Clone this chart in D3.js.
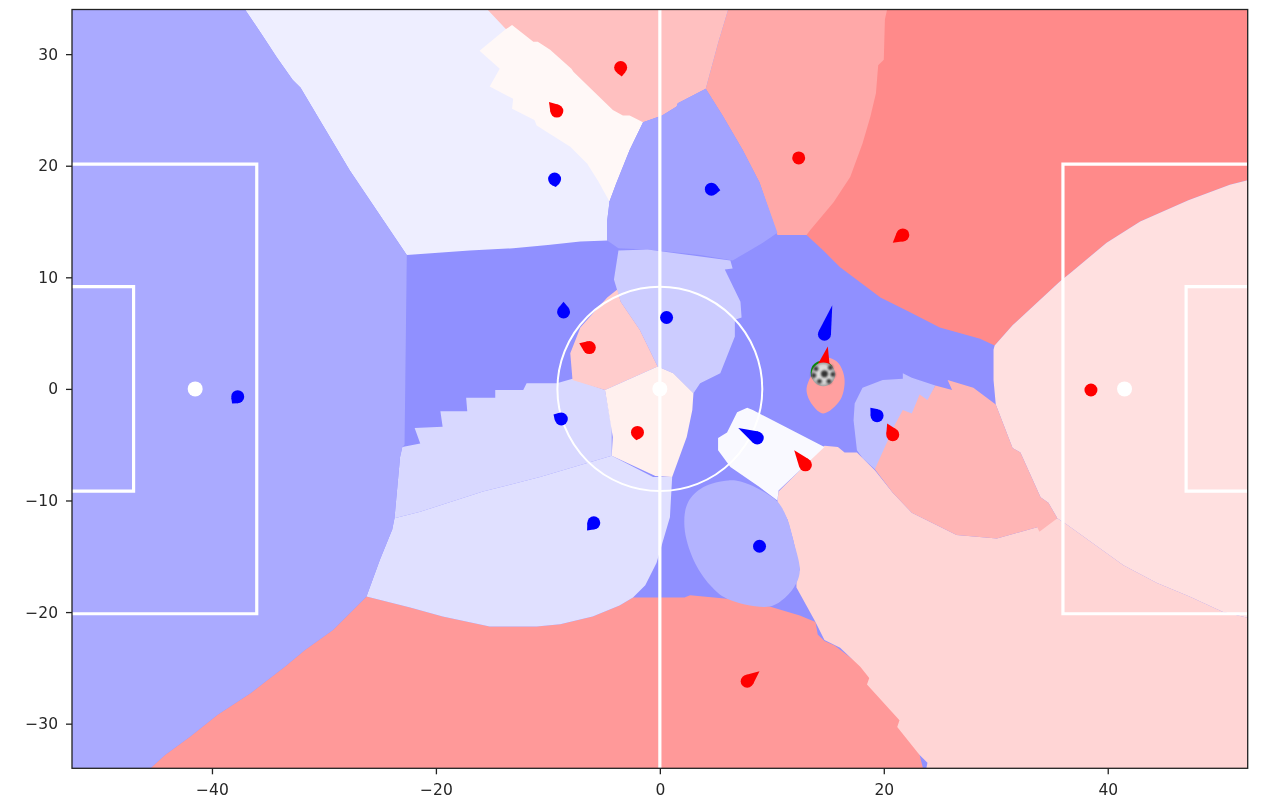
<!DOCTYPE html>
<html>
<head>
<meta charset="utf-8">
<script src="https://cdnjs.cloudflare.com/ajax/libs/d3/7.8.5/d3.min.js"></script>
<style>
  html, body { margin: 0; background: #fff; }
  svg { display: block; filter: blur(0.35px); }
  text { font-family: "DejaVu Sans", sans-serif; fill: #262626; }
</style>
</head>
<body>
<svg id="chart" width="1262" height="801"></svg>
<script>
// control regions, pitch coordinates in metres
// painted in this order, later ones sit on top of earlier ones
const farLeft = [[-52.5,34],[-37.05,34],[-35.5,31.7],[-34.2,29.7],[-32.8,27.7],[-32.1,27],[-27.7,19.6],[-22.6,12],[-22.8,-5],[-23,-5.2],[-23.2,-6.1],[-23.7,-11.6],[-23.9,-12.6],[-25,-15.3],[-26.2,-18.6],[-29.2,-21.6],[-31.7,-23.4],[-33.5,-24.9],[-36.6,-27.3],[-39.5,-29.2],[-42,-31.2],[-44.2,-32.8],[-45.5,-34],[-52.5,-34]];
const topLeft = [[-37.05,34],[-15.2,34],[-13.4,32.2],[-5.3,25],[-4.5,16.7],[-4.7,15.1],[-4.7,13.3],[-7.1,13.2],[-10,12.9],[-13.1,12.6],[-17,12.4],[-22.6,12],[-27.7,19.6],[-32.1,27],[-32.8,27.7],[-34.2,29.7],[-35.5,31.7]];
const topRed = [[-15.4,34],[6.1,34],[5.2,31],[4.1,26.9],[1.6,25.6],[1.5,25.3],[0.2,24.5],[-1.5,23.9],[-5.3,25],[-13.8,32.3]];
const topWhite = [[-13.2,32.6],[-11.3,31.1],[-10.9,31.1],[-9.8,30.4],[-7.9,28.7],[-7.7,28.4],[-4.2,25],[-3.3,24.5],[-2.7,24.5],[-1.5,23.9],[-2.7,21.4],[-3.9,18.4],[-4.5,16.8],[-5.5,18.6],[-6.5,20.2],[-8,21.7],[-11,23.6],[-11.2,24.1],[-13.2,25.1],[-13.1,26],[-15.2,27.1],[-14.3,28.7],[-16.1,30.3],[-13.8,32.2]];
const cornerRed = [[15,34],[52.5,34],[52.5,18.7],[50.9,18.3],[47.2,16.9],[42.9,15],[39.9,13.1],[36.8,10.5],[35.7,9.6],[31.5,5.7],[29.9,3.9],[28.6,4.5],[25,5.5],[22.3,6.9],[19.7,8.2],[16.1,10.9],[14.6,12.4],[13.1,13.8],[12,20]];
const upperRed = [[6.1,34],[20.3,34],[20.1,33.1],[20,29.5],[19.5,29],[19.3,26.5],[18.8,24.4],[18.1,22],[17,19],[15.5,16.7],[13.4,14.2],[13.1,13.8],[10.5,13.8],[8.9,18.5],[7.4,21.4],[5.6,24.5],[4.1,26.9],[5.2,31]];
const upperBlue = [[-1.5,23.9],[0.2,24.5],[1.5,25.3],[1.6,25.6],[4.1,26.9],[5.6,24.5],[7.4,21.4],[8.9,18.5],[10.5,14],[9.2,13.1],[6.5,11.5],[3.6,12],[-1.1,12.5],[-3.7,12.6],[-4.7,13.3],[-4.7,15.1],[-4.5,16.8],[-3.9,18.4],[-2.7,21.4]];
const keeperPink = [[29.9,3.9],[31.5,5.7],[35.7,9.6],[36.8,10.5],[39.9,13.1],[42.9,15],[47.2,16.9],[50.9,18.3],[52.5,18.7],[52.5,-20.5],[50.3,-20],[47.3,-18.6],[44.4,-17.4],[41.4,-15.8],[36.4,-12.2],[35.5,-11.6],[34.7,-10.2],[34,-9.7],[32.2,-5.7],[31.5,-5.3],[30,-1.4],[29.8,0.8],[29.8,3.5]];
const bottomRed = [[-45.5,-34],[-44.2,-32.8],[-42,-31.2],[-39.5,-29.2],[-36.6,-27.3],[-33.5,-24.9],[-31.7,-23.4],[-29.2,-21.6],[-26.2,-18.6],[-22.3,-19.6],[-19.4,-20.4],[-15.2,-21.3],[-11,-21.3],[-8.9,-21.1],[-6,-20.4],[-3.6,-19.4],[-2.4,-18.7],[0,-18.7],[2.2,-18.7],[2.7,-18.5],[6,-18.8],[9.8,-19.5],[12.5,-20.3],[13.9,-20.9],[14.1,-22],[14.7,-22.6],[15.6,-23],[19.7,-26.1],[23.2,-32.8],[23.5,-34]];
const lowerRightBlue = [[21.7,1.4],[22.5,1],[24.6,0.3],[23.2,-2.8],[19.2,-7.2],[18.1,-6.2],[17.6,-5.5],[17.3,-2.8],[17.4,-1.3],[18.1,0.1],[19.9,0.8],[21.7,0.9]];
const lowerPink = [[14.7,-5.1],[15.9,-5.2],[16.5,-5.7],[17.6,-5.7],[19.2,-7.3],[20.8,-9.3],[22.5,-11.1],[26.5,-13.1],[30.1,-13.4],[33.7,-12.4],[35.5,-11.6],[36.4,-12.2],[41.4,-15.8],[44.4,-17.4],[47.3,-18.6],[50.3,-20],[52.5,-20.5],[52.5,-34],[23.8,-34],[23.9,-33.5],[23.2,-32.8],[21.2,-30.3],[21.4,-29.7],[18.5,-26.5],[18.7,-25.9],[17.9,-24.9],[16.1,-23.2],[14.7,-22.5],[13.9,-20.9],[12.2,-17.8],[12.2,-16.9],[12.5,-16.2],[11.9,-13.5],[11.4,-11.7],[10.5,-10.1],[10.6,-9.2]];
const boxRed = [[25.7,0.8],[28,0.1],[30,-1.4],[31.5,-5.3],[32.2,-5.7],[34,-9.7],[34.7,-10.2],[35.5,-11.6],[33.9,-12.8],[33.7,-12.4],[30.1,-13.4],[26.5,-13.1],[22.5,-11.1],[20.8,-9.3],[19.2,-7.2],[21,-3.2],[21.7,-1.9],[22.5,-2.2],[23.2,-0.5],[23.9,-1],[24.6,0.3],[26.1,-0.1]];
const lowerBlue = [[-23.7,-11.6],[-21.4,-11],[-15.8,-9.2],[-10.7,-7.9],[-4.3,-6],[-0.6,-7.9],[1.1,-7.9],[0.9,-11.5],[-0.3,-15.6],[-1.3,-17.6],[-2.4,-18.7],[-3.6,-19.4],[-6,-20.4],[-8.9,-21.1],[-11,-21.3],[-15.2,-21.3],[-19.4,-20.4],[-22.3,-19.6],[-26.2,-18.6],[-25,-15.3],[-23.9,-12.6]];
const stairBlue = [[-23,-5.2],[-21.4,-4.9],[-21.9,-3.5],[-19.4,-3.4],[-19.6,-2],[-17.2,-2],[-17.3,-0.8],[-14.7,-0.8],[-14.7,-0.1],[-12.2,-0.1],[-11.9,0.5],[-9.2,0.5],[-7.8,0.9],[-4.9,-0.1],[-4.3,-3.4],[-4.3,-6],[-10.7,-7.9],[-15.8,-9.2],[-21.4,-11],[-23.7,-11.6],[-23.2,-6.1]];
const centreLight = [[-3.7,12.4],[-1.1,12.5],[6.3,11.5],[6.5,10.8],[5.8,10.7],[7.2,7.8],[7.3,6.4],[6.7,6.2],[6.7,4.7],[5.4,1.4],[3.6,0.5],[3,-0.4],[1.2,1.4],[-0.2,2],[-1.8,5.3],[-3.5,7.8],[-4.1,9.8]];
const centrePink = [[-3.8,8.9],[-3.5,7.8],[-1.8,5.3],[-0.2,2],[-4.9,-0.1],[-7.8,0.8],[-8,3.2],[-7.1,5.5],[-4.7,8.2]];
const centreSpot = [[-4.9,-0.1],[-0.2,2],[1.2,1.4],[3,-0.4],[2.9,-1.9],[2.4,-4.3],[1.1,-7.9],[-0.4,-7.8],[-4.3,-6],[-4.2,-4.3],[-4.6,-1.9]];
const lowerWhite = [[7.8,-1.7],[6.9,-2.1],[6,-3.9],[5.2,-4.4],[5.2,-5.5],[6.3,-7],[8.9,-8.8],[10.5,-10],[10.6,-9.1],[14.7,-5.2],[8.3,-1.9]];
const lowerBlob = [[6.1,-8.2],[3.9,-8.8],[2.5,-10.2],[2.2,-12.4],[3,-15.3],[4.5,-17.6],[6,-18.8],[9.8,-19.5],[11.2,-18.7],[12.2,-17.4],[12.5,-16.2],[11.9,-13.5],[11.4,-11.7],[10.5,-10.1],[8.7,-8.9],[7.2,-8.3]];
const ballRed = [[15,2.8],[15.6,2.6],[16.1,2.1],[16.5,0.8],[16.1,-1],[14.6,-2.2],[13.6,-1.4],[13.1,-0.1],[13.6,1.4],[14.1,2.4]];

const regions = [cornerRed, upperRed, topLeft, topRed, topWhite, upperBlue, keeperPink, bottomRed, lowerRightBlue, lowerPink, boxRed, lowerBlue, stairBlue, centreLight, centrePink, centreSpot, lowerBlob, lowerWhite, farLeft];
const regionColours = ["#ff8a8a", "#ffa8a8", "#eeeeff", "#ffc0c0", "#fff8f7", "#a3a3ff", "#ffe0e0", "#ff9999", "#c0c0ff", "#ffd5d5", "#ffb5b5", "#e0e0ff", "#d8d8ff", "#ccccff", "#ffcccc", "#fff0ee", "#b3b3ff", "#f9f9ff", "#aaaaff"];
// these two have round outlines in the picture
const roundRegions = [lowerBlob, ballRed];

// players: position and the end of the velocity tail
const blueX = [-37.7, -9.4, 4.6, -8.6, 0.6, 14.7, -8.8, 8.7, 19.4, -5.9, 8.9];
const blueY = [-0.7, 18.8, 17.9, 6.9, 6.4, 4.9, -2.7, -4.4, -2.4, -12, -14.1];
const blueTipX = [-38.2, -9.3, 5.4, -8.6, 0.6, 15.4, -9.5, 7, 18.8, -6.5, 8.9];
const blueTipY = [-1.3, 18.1, 17.8, 7.8, 6.4, 7.5, -2.3, -3.5, -1.7, -12.7, -14.3];
const redX = [38.5, -3.5, -9.2, 12.4, 21.7, -6.3, 14.6, -2, 13, 20.8, 7.8];
const redY = [-0.1, 28.8, 24.9, 20.7, 13.8, 3.7, 1.9, -3.9, -6.8, -4.1, -26.2];
const redTipX = [38.5, -3.4, -9.9, 12.4, 20.8, -7.2, 15, -2.1, 12, 20.3, 8.9];
const redTipY = [-0.1, 28, 25.7, 20.7, 13.1, 4.1, 3.8, -4.6, -5.5, -3.1, -25.3];

const ballPos = [14.6, 1.3];
const ballMarker = [14.5, 1.5];
// dark patches of the ball, offsets from its centre in metres
const ballPatchX = [0.1, -0.65, 0.62, -0.35, 0.5, 0.85, -0.85];
const ballPatchY = [0.05, 0.5, 0.6, -0.62, -0.62, 0, -0.1];

const xTicks = [-40, -20, 0, 20, 40];
const yTicks = [-30, -20, -10, 0, 10, 20, 30];

const svg = d3.select("#chart");
const x = d3.scaleLinear().domain([-52.5, 52.5]).range([72, 1247.7]);
const y = d3.scaleLinear().domain([-34, 34]).range([768.3, 9.5]);

const defs = svg.append("defs");
defs.append("clipPath").attr("id", "pitch").append("rect")
  .attr("x", x(-52.5)).attr("y", y(34))
  .attr("width", x(52.5) - x(-52.5)).attr("height", y(-34) - y(34));
const grad = defs.append("radialGradient").attr("id", "ballFill");
grad.append("stop").attr("offset", "0%").attr("stop-color", "#eeeeee");
grad.append("stop").attr("offset", "75%").attr("stop-color", "#d4d4d4");
grad.append("stop").attr("offset", "100%").attr("stop-color", "#a0a0a0");
const blur = defs.append("filter").attr("id", "soft");
blur.append("feGaussianBlur").attr("stdDeviation", 1.1);

const plot = svg.append("g").attr("clip-path", "url(#pitch)");

// everything not covered by a region is the mid blue
plot.append("rect")
  .attr("x", x(-52.5)).attr("y", y(34))
  .attr("width", x(52.5) - x(-52.5)).attr("height", y(-34) - y(34))
  .attr("fill", "#9090ff");

const polyLine = d3.line().x(d => x(d[0])).y(d => y(d[1]));
const roundLine = d3.line().x(d => x(d[0])).y(d => y(d[1])).curve(d3.curveCatmullRomClosed);

plot.selectAll("path.region").data(regions).join("path")
  .attr("class", "region")
  .attr("d", d => roundRegions.includes(d) ? roundLine(d) : polyLine(d) + "Z")
  .attr("fill", (d, i) => regionColours[i]);

plot.append("path")
  .attr("d", roundLine(ballRed))
  .attr("fill", "#ffa0a0");

// pitch markings
const white = plot.append("g").attr("fill", "none").attr("stroke", "#fff").attr("stroke-width", 3.2);
white.append("line").attr("x1", x(0)).attr("x2", x(0)).attr("y1", y(-34)).attr("y2", y(34));
[-1, 1].forEach(function(side) {
  white.append("path").attr("d", polyLine([[side*52.5,20.15],[side*36,20.15],[side*36,-20.15],[side*52.5,-20.15]]));
  white.append("path").attr("d", polyLine([[side*52.5,9.16],[side*47,9.16],[side*47,-9.16],[side*52.5,-9.16]]));
});
white.append("ellipse")
  .attr("cx", x(0)).attr("cy", y(0))
  .attr("rx", x(9.15) - x(0)).attr("ry", y(0) - y(9.15))
  .attr("stroke-width", 2);
plot.selectAll("circle.spot").data([-41.5, 0, 41.5]).join("circle")
  .attr("class", "spot")
  .attr("cx", d => x(d)).attr("cy", y(0)).attr("r", 7.5)
  .attr("fill", "#fff");

// ball marker sits under the players, only its top edge shows
plot.append("circle")
  .attr("cx", x(ballMarker[0])).attr("cy", y(ballMarker[1])).attr("r", 11.5)
  .attr("fill", "#0a8a0a");

function drawPlayers(xs, ys, tipXs, tipYs, colour) {
  const r = 6.5;
  xs.forEach(function(px, i) {
    const cx = x(px), cy = y(ys[i]);
    const tx = x(tipXs[i]), ty = y(tipYs[i]);
    const len = Math.hypot(tx - cx, ty - cy);
    plot.append("circle").attr("cx", cx).attr("cy", cy).attr("r", r).attr("fill", colour);
    if (len > r) {
      // tail leaves the dot on its tangents, so it reads as one teardrop
      const dir = Math.atan2(ty - cy, tx - cx);
      const spread = Math.acos(r / len);
      const p1 = [cx + r * Math.cos(dir + spread), cy + r * Math.sin(dir + spread)];
      const p2 = [cx + r * Math.cos(dir - spread), cy + r * Math.sin(dir - spread)];
      plot.append("path")
        .attr("d", "M" + p1 + "L" + tx + "," + ty + "L" + p2 + "Z")
        .attr("fill", colour);
    }
  });
}
drawPlayers(blueX, blueY, blueTipX, blueTipY, "#0000ff");
drawPlayers(redX, redY, redTipX, redTipY, "#ff0000");

// ball
const ball = plot.append("g");
ball.append("circle")
  .attr("cx", x(ballPos[0])).attr("cy", y(ballPos[1])).attr("r", 11.8)
  .attr("fill", "url(#ballFill)");
const patches = ball.append("g").attr("filter", "url(#soft)");
patches.selectAll("circle").data(ballPatchX).join("circle")
  .attr("cx", d => x(ballPos[0] + d))
  .attr("cy", (d, i) => y(ballPos[1] + ballPatchY[i]))
  .attr("r", (d, i) => i == 0 ? 3.6 : 2.4)
  .attr("fill", "#333");

// axes
const xAxis = d3.axisBottom(x).tickValues(xTicks).tickSize(6).tickPadding(9.5)
  .tickFormat(d => String(d).replace("-", "\u2212"));
const yAxis = d3.axisLeft(y).tickValues(yTicks).tickSize(6).tickPadding(8)
  .tickFormat(d => String(d).replace("-", "\u2212"));
const gx = svg.append("g").attr("transform", "translate(0," + y(-34) + ")").call(xAxis);
const gy = svg.append("g").attr("transform", "translate(" + x(-52.5) + ",0)").call(yAxis);
[gx, gy].forEach(function(g) {
  g.select(".domain").remove();
  g.selectAll("line").attr("stroke", "#222").attr("stroke-width", 1.3);
  g.selectAll("text").attr("font-size", 15.5).attr("font-family", "DejaVu Sans");
});

svg.append("rect")
  .attr("x", x(-52.5)).attr("y", y(34))
  .attr("width", x(52.5) - x(-52.5)).attr("height", y(-34) - y(34))
  .attr("fill", "none").attr("stroke", "#222").attr("stroke-width", 1.3);
</script>
</body>
</html>
